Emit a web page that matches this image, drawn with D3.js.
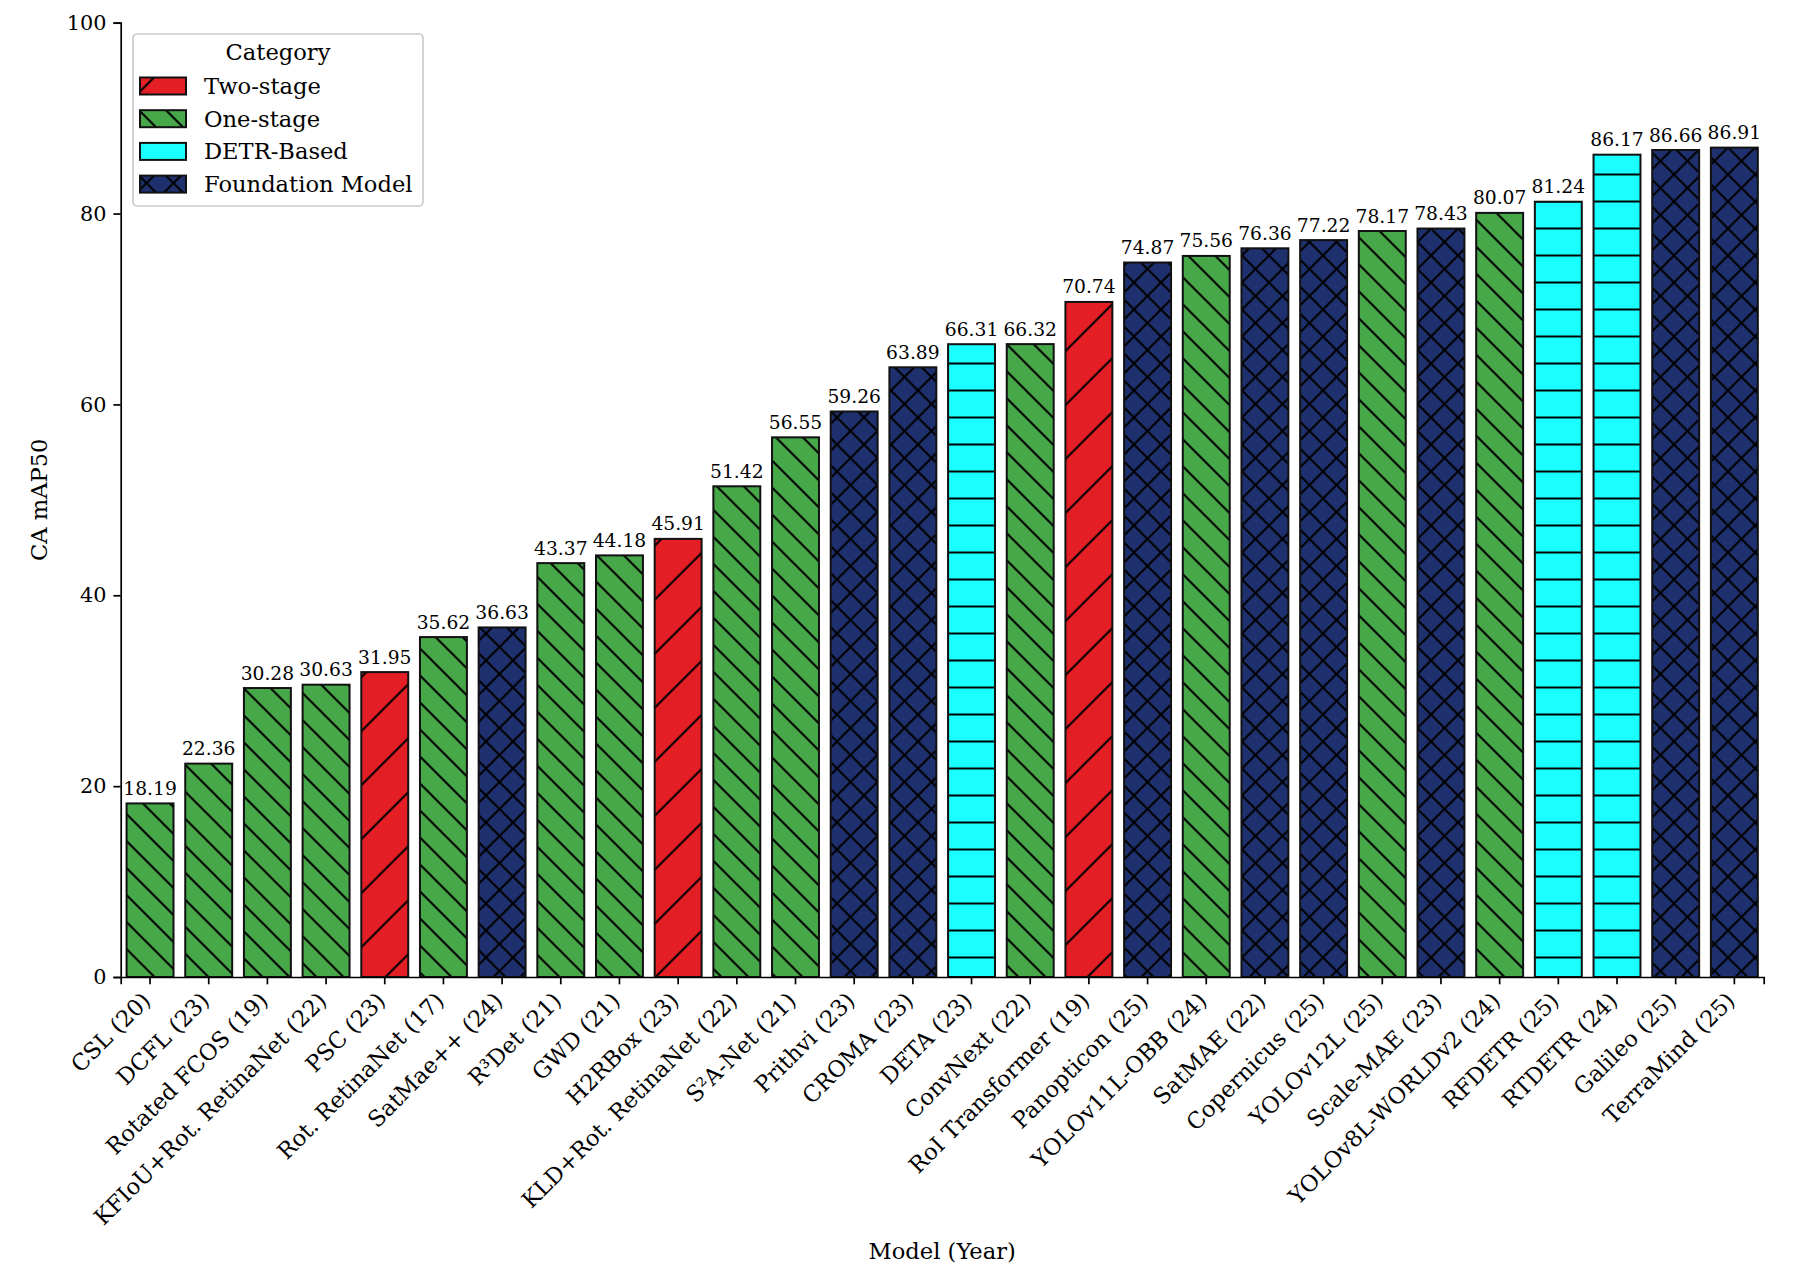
<!DOCTYPE html>
<html>
<head>
<meta charset="utf-8">
<script src="https://cdn.jsdelivr.net/npm/d3@7"></script>
<style>
  body { margin: 0; background: #fff; }
  text { font-family: "DejaVu Serif", serif; fill: #000; }
</style>
</head>
<body>
<div id="container"></div>
<script>
const models = ["CSL (20)", "DCFL (23)", "Rotated FCOS (19)", "KFIoU+Rot. RetinaNet (22)", "PSC (23)",
    "Rot. RetinaNet (17)", "SatMae++ (24)", "R³Det (21)", "GWD (21)", "H2RBox (23)",
    "KLD+Rot. RetinaNet (22)", "S²A-Net (21)", "Prithvi (23)", "CROMA (23)", "DETA (23)",
    "ConvNext (22)", "RoI Transformer (19)", "Panopticon (25)", "YOLOv11L-OBB (24)", "SatMAE (22)",
    "Copernicus (25)", "YOLOv12L (25)", "Scale-MAE (23)", "YOLOv8L-WORLDv2 (24)", "RFDETR (25)",
    "RTDETR (24)", "Galileo (25)", "TerraMind (25)"];
const scores = [18.19, 22.36, 30.28, 30.63, 31.95, 35.62, 36.63, 43.37, 44.18, 45.91,
    51.42, 56.55, 59.26, 63.89, 66.31, 66.32, 70.74, 74.87, 75.56, 76.36,
    77.22, 78.17, 78.43, 80.07, 81.24, 86.17, 86.66, 86.91];
const modelCategory = ["One-stage", "One-stage", "One-stage", "One-stage", "Two-stage",
    "One-stage", "Foundation Model", "One-stage", "One-stage", "Two-stage",
    "One-stage", "One-stage", "Foundation Model", "Foundation Model", "DETR-Based",
    "One-stage", "Two-stage", "Foundation Model", "One-stage", "Foundation Model",
    "Foundation Model", "One-stage", "Foundation Model", "One-stage", "DETR-Based",
    "DETR-Based", "Foundation Model", "Foundation Model"];
const categories = ["Two-stage", "One-stage", "DETR-Based", "Foundation Model"];
const catColors = ["#e31e24", "#47a84a", "#1affff", "#1f306e"];
const catHatches = ["/", "\\\\", "--", "xx"];
const yTicks = [0, 20, 40, 60, 80, 100];

const width = 1808, height = 1286;
const margin = { top: 22.7, right: 44.3, bottom: 309, left: 120.7 };
const labelSize = "22.6px";

const svg = d3.select("#container").append("svg")
    .attr("width", width)
    .attr("height", height);

const x = d3.scaleBand()
    .domain(models)
    .range([margin.left, width - margin.right])
    .paddingInner(0.2)
    .paddingOuter(0.1);

const y = d3.scaleLinear()
    .domain([0, 100])
    .range([height - margin.bottom, margin.top]);

const color = d3.scaleOrdinal().domain(categories).range(catColors);
const hatch = d3.scaleOrdinal().domain(categories).range(catHatches);

// hatch patterns, anchored to the page so bars share the same phase
const defs = svg.append("defs");
categories.forEach((c, i) => {
    const h = hatch(c);
    const size = h.length === 1 ? 54 : 27;
    const p = defs.append("pattern")
        .attr("id", "hatch" + i)
        .attr("patternUnits", "userSpaceOnUse")
        .attr("width", size)
        .attr("height", size)
        .attr("patternTransform", "translate(0,12.5)");
    p.append("rect").attr("width", size).attr("height", size).attr("fill", color(c));
    let d = "";
    if (h[0] === "/" || h[0] === "x")
        d += `M-2,2 L2,-2 M0,${size} L${size},0 M${size - 2},${size + 2} L${size + 2},${size - 2} `;
    if (h[0] === "\\" || h[0] === "x")
        d += `M-2,-2 L${size + 2},${size + 2} M${size - 2},-2 L${size + 2},2 M-2,${size - 2} L2,${size + 2} `;
    if (h[0] === "-")
        d += `M-1,0 L${size + 1},0 M-1,${size} L${size + 1},${size} `;
    p.append("path").attr("d", d)
        .attr("stroke", "#000")
        .attr("stroke-width", 2)
        .attr("fill", "none");
});
const fillOf = c => "url(#hatch" + categories.indexOf(c) + ")";

// bars
svg.selectAll(".bar")
    .data(models)
    .enter()
    .append("rect")
    .attr("class", "bar")
    .attr("x", d => x(d))
    .attr("width", x.bandwidth())
    .attr("y", (d, i) => y(scores[i]))
    .attr("height", (d, i) => y(0) - y(scores[i]))
    .attr("fill", (d, i) => fillOf(modelCategory[i]))
    .attr("stroke", "#111")
    .attr("stroke-width", 2);

// value labels
svg.selectAll(".val")
    .data(models)
    .enter()
    .append("text")
    .attr("class", "val")
    .attr("x", d => x(d) + x.bandwidth() / 2)
    .attr("y", (d, i) => y(scores[i]) - 8.5)
    .attr("text-anchor", "middle")
    .style("font-size", "18.7px")
    .text((d, i) => scores[i].toFixed(2));

// axes
const xAxis = svg.append("g")
    .attr("transform", `translate(0,${y(0)})`)
    .call(d3.axisBottom(x).tickSizeOuter(0).tickSize(7.3).tickPadding(7));
xAxis.select(".domain").attr("stroke-width", 1.7);
xAxis.selectAll(".tick line").attr("stroke-width", 1.7);
xAxis.selectAll(".tick text")
    .style("font-size", labelSize)
    .attr("text-anchor", "end")
    .attr("y", 0)
    .attr("dy", 0)
    .attr("transform", "translate(2,25) rotate(-45)");

const yAxis = svg.append("g")
    .attr("transform", `translate(${margin.left},0)`)
    .call(d3.axisLeft(y).tickValues(yTicks).tickSizeOuter(0).tickSize(7.3).tickPadding(7));
yAxis.select(".domain").attr("stroke-width", 1.7);
yAxis.selectAll(".tick line").attr("stroke-width", 1.7);
yAxis.selectAll(".tick text").style("font-size", "20.8px");
svg.selectAll(".domain").attr("stroke", "#000");
svg.selectAll(".tick line").attr("stroke", "#000");

// axis titles
svg.append("text")
    .attr("x", (margin.left + width - margin.right) / 2)
    .attr("y", 1259)
    .attr("text-anchor", "middle")
    .style("font-size", labelSize)
    .text("Model (Year)");

svg.append("text")
    .attr("transform", `translate(47,${(y(0) + y(100)) / 2}) rotate(-90)`)
    .attr("text-anchor", "middle")
    .style("font-size", labelSize)
    .text("CA mAP50");

// legend
const legend = svg.append("g").attr("transform", "translate(133,34)");
legend.append("rect")
    .attr("width", 290)
    .attr("height", 172)
    .attr("rx", 4)
    .attr("fill", "rgba(255,255,255,0.8)")
    .attr("stroke", "#cccccc")
    .attr("stroke-width", 1.7);
legend.append("text")
    .attr("x", 145)
    .attr("y", 26)
    .attr("text-anchor", "middle")
    .style("font-size", labelSize)
    .text("Category");
categories.forEach((c, i) => {
    const row = legend.append("g").attr("transform", `translate(0,${52 + i * 32.7})`);
    row.append("rect")
        .attr("x", 7)
        .attr("y", -8.5)
        .attr("width", 46)
        .attr("height", 17)
        .attr("fill", fillOf(c))
        .attr("stroke", "#111")
        .attr("stroke-width", 2);
    row.append("text")
        .attr("x", 71)
        .attr("y", 8)
        .style("font-size", labelSize)
        .text(c);
});
</script>
</body>
</html>
